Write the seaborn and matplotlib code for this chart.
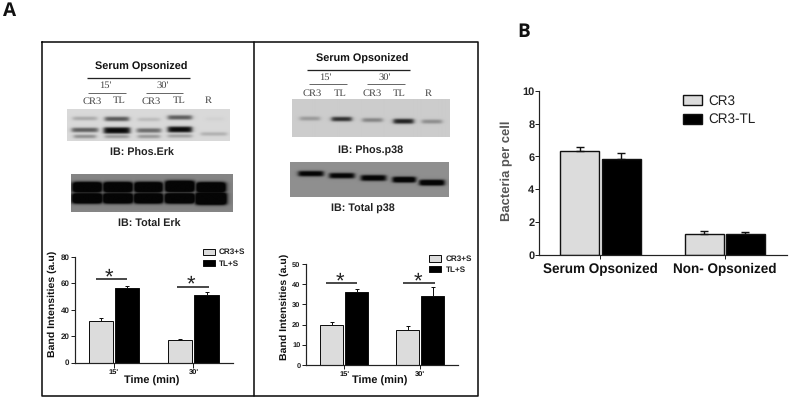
import numpy as np
import pandas as pd
import matplotlib
matplotlib.use("Agg")
import matplotlib.pyplot as plt
import seaborn as sns

W, H = 793, 401
SANS = "Liberation Sans"
SERIF = "Liberation Serif"

# ---- data ----
times = ["15'", "30'"]
a_hue = ["CR3+S", "TL+S"]
erk_cr3 = [31.5, 17.0]
erk_tl = [56.0, 51.0]
erk_cr3_err = [2.0, 1.0]
erk_tl_err = [2.0, 2.5]
p38_cr3 = [19.7, 17.4]
p38_tl = [36.2, 34.0]
p38_cr3_err = [1.5, 1.7]
p38_tl_err = [1.3, 4.5]

b_groups = ["Serum Opsonized", "Non- Opsonized"]
b_hue = ["CR3", "CR3-TL"]
b_cr3 = [6.3, 1.25]
b_tl = [5.85, 1.25]
b_cr3_err = [0.3, 0.2]
b_tl_err = [0.35, 0.15]

lane_labels = ["CR3", "TL", "CR3", "TL", "R"]

# blot bands: x, y, width, height, darkness (figure pixels)
erk_phos_bands = [
    (85, 118.5, 24, 3.2, .25), (117, 119, 24, 4, .65), (149, 119.5, 22, 3, .16),
    (180, 117.5, 24, 4, .62), (215, 119, 18, 3, .04),
    (85, 130, 26, 4, .62), (117, 130.5, 26, 6, 1.0), (149, 130.5, 24, 4, .55),
    (180, 129.5, 24, 5.5, 1.0), (214, 134, 26, 3, .22),
    (85, 136.5, 22, 3, .4), (117, 136.5, 24, 3, .35), (149, 136.5, 22, 3, .35), (180, 136, 24, 3, .3),
]
erk_total_bands = [
    (86.7, 187.8, 29, 10, 1.6), (117.3, 187.8, 29, 10, 1.6), (147.7, 187.8, 28, 10, 1.6), (179, 187, 29, 11, 1.6), (210, 188, 29, 10, 1.6),
    (86.7, 198.7, 30, 10, 1.6), (117.3, 198.7, 30, 10, 1.6), (147.7, 198.7, 29, 10, 1.6), (179, 198.7, 30, 10, 1.6), (210, 199, 31, 12, 1.6),
]
p38_phos_bands = [
    (309.3, 118, 20, 3.5, .28), (341, 118.5, 20, 4, .85), (371.7, 119.5, 20, 3.5, .4),
    (402.7, 120.7, 20, 4.5, .9), (431, 121, 20, 3.5, .35),
]
p38_total_bands = [
    (310.7, 173.7, 25, 5, 1.1), (341.7, 175.7, 25, 5, 1.1), (373.3, 178, 25, 5.5, 1.1),
    (404, 179.7, 23, 5.5, 1.2), (431.7, 182.7, 25, 5.5, 1.2),
]

sns.set_theme(style="ticks")
plt.rcParams["font.family"] = [SANS, "DejaVu Sans"]
plt.rcParams["text.hinting"] = "no_hinting"


def pt(px):
    return px * 72 / 100


fig = plt.figure(figsize=(W / 100, H / 100), dpi=100, facecolor="white")
ov = fig.add_axes([0, 0, 1, 1], zorder=0)
ov.set_xlim(0, W)
ov.set_ylim(H, 0)
ov.axis("off")


def blot(x0, x1, y0, y1, bg, bands, sx=2.5, sy=1.2):
    xs = np.arange(x0, x1, 0.5)
    ys = np.arange(y0, y1, 0.5)
    X, Y = np.meshgrid(xs, ys)
    dark = np.zeros_like(X)
    for (cx, cy, w, h, d) in bands:
        px = 0.5 * (np.tanh((X - cx + w / 2) / sx) - np.tanh((X - cx - w / 2) / sx))
        py = 0.5 * (np.tanh((Y - cy + h / 2) / sy) - np.tanh((Y - cy - h / 2) / sy))
        dark = np.maximum(dark, d * px * py)
    dark = np.clip(dark, 0, 1)
    img = bg * (1 - dark) + 0.02 * dark
    ov.imshow(img, cmap="gray", vmin=0, vmax=1, extent=(x0, x1, y1, y0),
              aspect="auto", interpolation="bilinear", zorder=1)
    ov.set_xlim(0, W)
    ov.set_ylim(H, 0)


def hline(x0, x1, y, lw=1.3, color="#222222"):
    ov.plot([x0, x1], [y, y], color=color, lw=pt(lw), solid_capstyle="butt", zorder=2)


def label(x, y, s, size, weight="bold", family=SANS, color="#111111", ha="center", rot=0):
    ov.text(x, y, s, fontsize=pt(size), fontweight=weight, family=family, color=color,
            ha=ha, va="center", rotation=rot, zorder=3)


# panel letters and boxes
label(10, 11, "A", 19, family="Open Sans")
label(524, 32, "B", 19, family="Open Sans")
ov.plot([42, 253.5, 253.5, 42, 42], [42, 42, 396, 396, 42], color="#111111", lw=pt(1.6), zorder=2)
ov.plot([253.5, 477.5, 477.5, 253.5], [42, 42, 395.5, 395.5], color="#111111", lw=pt(1.6), zorder=2)

# blots
blot(67.3, 230.3, 109.3, 141, 0.85, erk_phos_bands)
blot(70.7, 232, 175, 212.3, 0.52, erk_total_bands, sx=3, sy=1.6)
blot(291.7, 449, 98.7, 136.7, 0.80, p38_phos_bands)
blot(290, 449, 162.3, 197, 0.56, p38_total_bands)

# left header
label(141, 66.7, "Serum Opsonized", 10.9)
hline(86.7, 189.7, 78.3)
label(105, 85.7, "15'", 10.5, "normal", SERIF, "#444444")
label(163, 85.7, "30'", 10.5, "normal", SERIF, "#444444")
hline(88.3, 125.7, 93, 0.8, "#444444")
hline(146, 183.3, 93, 0.8, "#444444")
for x, s in zip([91.7, 119, 151, 179, 208], lane_labels):
    label(x, 101, s, 10.5, "normal", SERIF, "#444444")
label(141.7, 152.7, "IB: Phos.Erk", 10.7, color="#222222")
label(149, 224.3, "IB: Total Erk", 10.7, color="#222222")

# right header
label(362.7, 59.3, "Serum Opsonized", 10.9)
hline(306.7, 410, 69.7)
label(325, 77, "15'", 10.5, "normal", SERIF, "#444444")
label(385, 77, "30'", 10.5, "normal", SERIF, "#444444")
hline(309.3, 347, 84.3, 0.8, "#444444")
hline(367, 404.7, 84.3, 0.8, "#444444")
for x, s in zip([312.3, 340, 371.7, 399, 428.3], lane_labels):
    label(x, 93.3, s, 10.5, "normal", SERIF, "#444444")
label(370.7, 151, "IB: Phos.p38", 10.7, color="#222222")
label(363.3, 209.3, "IB: Total p38", 10.7, color="#222222")


def bar_axes(box, cats, hues, v1, v2, e1, e2, ylim, yticks, xlim, width, gap,
             edge_lw, tick_size, tick_len, cap, xsize, xweight="bold", xpad=2,
             tick_color="#222222"):
    x0, x1, ytop, ybot = box
    ax = fig.add_axes([x0 / W, 1 - ybot / H, (x1 - x0) / W, (ybot - ytop) / H], zorder=2)
    ax.patch.set_alpha(0)
    df = pd.DataFrame({
        "cat": list(cats) * 2,
        "group": [hues[0]] * 2 + [hues[1]] * 2,
        "val": list(v1) + list(v2),
    })
    sns.barplot(data=df, x="cat", y="val", hue="group", order=list(cats), hue_order=list(hues),
                palette=["#dcdcdc", "#000000"], width=width, gap=gap, errorbar=None,
                edgecolor="#111111", linewidth=pt(edge_lw), ax=ax)
    for cont, errs in zip(ax.containers, (e1, e2)):
        for rect, err in zip(cont, errs):
            ax.errorbar(rect.get_x() + rect.get_width() / 2, rect.get_height(),
                        yerr=[[0], [err]], color="#111111", elinewidth=pt(edge_lw),
                        capsize=cap, capthick=pt(edge_lw), zorder=1)
    ax.set_xlim(*xlim)
    ax.set_ylim(*ylim)
    ax.set_yticks(yticks)
    ax.set_xlabel("")
    ax.set_ylabel("")
    sns.despine(ax=ax)
    for s in ("left", "bottom"):
        ax.spines[s].set_linewidth(pt(1.2))
        ax.spines[s].set_color("#222222")
    ax.tick_params(axis="both", length=pt(tick_len), width=pt(1), color="#222222")
    ax.tick_params(axis="y", labelsize=pt(tick_size), pad=pt(1), labelcolor=tick_color)
    ax.tick_params(axis="x", labelsize=pt(xsize), pad=pt(xpad), labelcolor="#111111")
    for t in ax.get_yticklabels():
        t.set_fontweight("bold")
    for t in ax.get_xticklabels():
        t.set_fontweight(xweight)
    return ax


def set_legend(ax, x, y, size, hl, hh, spacing, pad, weight, lw):
    handles, labels = ax.get_legend_handles_labels()
    leg = ax.legend(handles, labels, loc="upper left", bbox_to_anchor=(x, y),
                    bbox_transform=ov.transData, frameon=False, borderaxespad=0, borderpad=0,
                    handlelength=hl, handleheight=hh, labelspacing=spacing, handletextpad=pad,
                    prop={"family": SANS, "weight": weight, "size": pt(size)})
    for h in leg.legend_handles:
        h.set_linewidth(pt(lw))
    for t in leg.get_texts():
        t.set_color("#222222")


# Erk chart
ax1 = bar_axes((75, 233, 256.7, 362.5), times, a_hue, erk_cr3, erk_tl, erk_cr3_err, erk_tl_err,
               (0, 80), [0, 20, 40, 60, 80], (-0.487, 1.497), 0.657, 0.082, 1, 8, 4.5, 1.6, 7.5, xpad=2)
set_legend(ax1, 202.7, 248.5, 8.2, 1.5, 0.75, 0.45, 0.45, "bold", 1)
label(52.7, 304, "Band Intensities (a.u)", 10.5, rot=90)
label(151.7, 380.7, "Time (min)", 11)
hline(96, 127.3, 279.3, 1.5, "#111111")
hline(177.3, 208.7, 286.7, 1.5, "#111111")
for x, y in [(109.3, 278), (191, 285)]:
    label(x, y, "*", 22, "normal", color="#222222")

# p38 chart
ax2 = bar_axes((305.5, 458, 264, 365), times, a_hue, p38_cr3, p38_tl, p38_cr3_err, p38_tl_err,
               (0, 50), [0, 10, 20, 30, 40, 50], (-0.51, 1.496), 0.658, 0.095, 1, 7.5, 4, 1.6, 7.5, xpad=2)
set_legend(ax2, 429.3, 255.5, 8.2, 1.45, 0.75, 0.4, 0.55, "bold", 1)
label(284.3, 307, "Band Intensities (a.u)", 10.5, rot=90)
label(380, 381, "Time (min)", 11)
hline(326, 357.3, 282.7, 1.5, "#111111")
hline(403.3, 435, 282.7, 1.5, "#111111")
for x, y in [(339.7, 282), (417.7, 282)]:
    label(x, y, "*", 22, "normal", color="#222222")

# Panel B chart
ax3 = bar_axes((539.3, 786.7, 90.7, 255), b_groups, b_hue, b_cr3, b_tl, b_cr3_err, b_tl_err,
               (0, 10), [0, 2, 4, 6, 8, 10], (-0.492, 1.497), 0.663, 0.05, 1.4, 11, 4, 2.6, 13.5,
               xpad=4)
set_legend(ax3, 683.3, 94.5, 13.5, 1.4, 0.75, 0.42, 0.45, "normal", 1.4)
label(506.7, 171, "Bacteria per cell", 13, color="#555555", rot=90)

fig.savefig("out.png", dpi=100, facecolor="white")
